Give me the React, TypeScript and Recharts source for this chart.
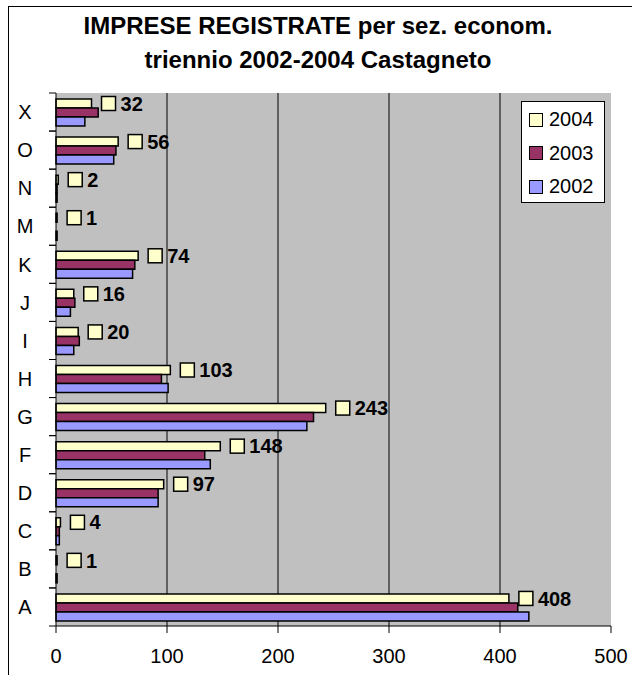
import React from "react"
import {
  BarChart,
  Bar,
  XAxis,
  YAxis,
  CartesianGrid,
  LabelList,
} from "recharts"

const categories = ["X", "O", "N", "M", "K", "J", "I", "H", "G", "F", "D", "C", "B", "A"]
const values2004 = [32, 56, 2, 1, 74, 16, 20, 103, 243, 148, 97, 4, 1, 408]
const values2003 = [38, 54, 1, 0, 71, 17, 21, 95, 232, 134, 92, 3, 0, 416]
const values2002 = [26, 52, 1, 1, 69, 13, 16, 101, 226, 139, 92, 3, 1, 426]
const xTicks = [0, 100, 200, 300, 400, 500]

const SERIES = [
  { key: "2004", color: "#FFFFCC" },
  { key: "2003", color: "#993366" },
  { key: "2002", color: "#9999FF" },
]

const data = categories.map((name, i) => ({
  name,
  "2004": values2004[i],
  "2003": values2003[i],
  "2002": values2002[i],
}))

const W = 632
const H = 675
const MARGIN = { top: 93, right: 21, bottom: 9, left: 8 }
const Y_WIDTH = 48
const X_HEIGHT = 40
const PLOT_LEFT = MARGIN.left + Y_WIDTH
const BAND = (H - MARGIN.top - MARGIN.bottom - X_HEIGHT) / categories.length
const FONT = "'Liberation Sans', Arial, sans-serif"

function CategoryTick(props: any) {
  const { y, payload } = props
  return (
    <g>
      <line x1={PLOT_LEFT - 7} x2={PLOT_LEFT} y1={y - BAND / 2} y2={y - BAND / 2} stroke="#000" />
      <line x1={PLOT_LEFT - 7} x2={PLOT_LEFT} y1={y + BAND / 2} y2={y + BAND / 2} stroke="#000" />
      <text x={25} y={y} dy="0.36em" textAnchor="middle" fontSize={20} fontFamily={FONT} fill="#000">
        {payload.value}
      </text>
    </g>
  )
}

function ValueLabel(props: any) {
  const { x, y, width, height, value } = props
  const bx = x + width + 10
  const cy = y + height / 2
  return (
    <g>
      <rect x={bx} y={cy - 7} width={14} height={14} fill="#FFFFCC" stroke="#000" strokeWidth={1.5} />
      <text x={bx + 19} y={cy} dy="0.36em" fontSize={20} fontWeight="bold" fontFamily={FONT} fill="#000">
        {value}
      </text>
    </g>
  )
}

function LegendBox() {
  return (
    <div
      style={{
        position: "absolute",
        left: 521,
        top: 101,
        width: 84,
        height: 102,
        boxSizing: "border-box",
        border: "1px solid #000",
        background: "#fff",
        fontFamily: FONT,
        fontSize: 20,
        paddingTop: 1,
      }}
    >
      {SERIES.map((s) => (
        <div key={s.key} style={{ display: "flex", alignItems: "center", height: 33.5 }}>
          <span
            style={{
              display: "inline-block",
              width: 12,
              height: 12,
              marginLeft: 7,
              marginRight: 6,
              background: s.color,
              border: "1.5px solid #000",
            }}
          />
          <span>{s.key}</span>
        </div>
      ))}
    </div>
  )
}

export default function App() {
  return (
    <div style={{ position: "absolute", left: 0, top: 0, width: W, height: H, background: "#fff" }}>
      <div
        style={{
          position: "absolute",
          left: 8,
          top: 6,
          right: 0,
          bottom: 0,
          borderLeft: "1px solid #000",
          borderTop: "1px solid #000",
        }}
      />
      <div
        style={{
          position: "absolute",
          left: 8,
          width: 620,
          top: 9,
          textAlign: "center",
          fontFamily: FONT,
          fontWeight: "bold",
          fontSize: 24,
          lineHeight: "34px",
          color: "#000",
        }}
      >
        <div>IMPRESE REGISTRATE per sez. econom.</div>
        <div>triennio 2002-2004 Castagneto</div>
      </div>
      <BarChart
        width={W}
        height={H}
        data={data}
        layout="vertical"
        margin={MARGIN}
        barSize={9}
        barGap={0}
        style={{ position: "absolute", left: 0, top: 0 }}
      >
        <CartesianGrid
          horizontal={false}
          fill="#C0C0C0"
          stroke="#000"
          verticalValues={[100, 200, 300, 400]}
        />
        <XAxis
          type="number"
          domain={[0, 500]}
          ticks={xTicks}
          interval={0}
          height={X_HEIGHT}
          tickSize={7}
          tickMargin={16}
          axisLine={{ stroke: "#000" }}
          tickLine={{ stroke: "#000" }}
          tick={{ fill: "#000", fontSize: 20, fontFamily: FONT }}
        />
        <YAxis
          type="category"
          dataKey="name"
          width={Y_WIDTH}
          interval={0}
          tickLine={false}
          axisLine={{ stroke: "#000" }}
          tick={<CategoryTick />}
        />
        {SERIES.map((s) => (
          <Bar
            key={s.key}
            dataKey={s.key}
            fill={s.color}
            stroke="#000"
            strokeWidth={1.5}
            isAnimationActive={false}
          >
            {s.key === "2004" && <LabelList dataKey="2004" content={<ValueLabel />} />}
          </Bar>
        ))}
      </BarChart>
      <LegendBox />
    </div>
  )
}
